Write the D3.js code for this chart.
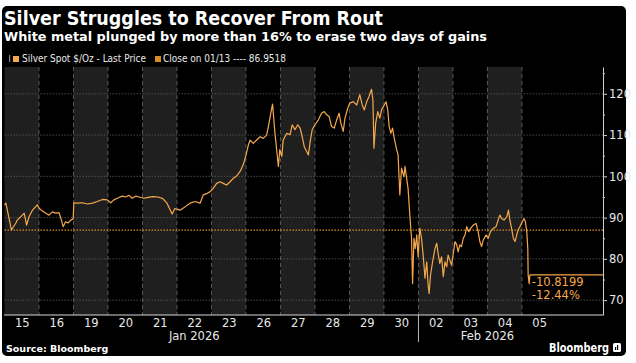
<!DOCTYPE html>
<html>
<head>
<meta charset="utf-8">
<script src="https://cdn.jsdelivr.net/npm/d3@7"></script>
<style>
  html, body { margin: 0; padding: 0; background: #fff; }
  svg { display: block; }
  text { font-family: "DejaVu Sans", sans-serif; }
</style>
</head>
<body>
<svg id="chart" width="636" height="363"></svg>
<script>
// trading days shown on the x axis
const days = ["15","16","19","20","21","22","23","26","27","28","29","30","02","03","04","05"];
const months = ["Jan 2026", "Feb 2026"];
const monthCenters = [5.5, 14];   // in trading-day units
const monthSplit = 12;            // first day of Feb
const yTicks = [70, 80, 90, 100, 110, 120];
const yMinor = [75, 85, 95, 105, 115, 125];
const closeValue = 86.9518;
const lastChange = "-10.8199";
const lastPct = "-12.44%";

// silver spot, position in trading days since open of Jan 15
const pos = [
  0.00,0.04,0.10,0.16,0.20,0.26,0.33,0.37,0.47,0.57,
  0.64,0.71,0.81,0.90,0.95,1.00,1.10,1.19,1.29,1.39,
  1.48,1.58,1.65,1.70,1.77,1.84,1.92,1.99,2.01,2.11,
  2.26,2.40,2.55,2.69,2.84,2.98,3.08,3.17,3.27,3.41,
  3.51,3.61,3.70,3.80,3.90,4.04,4.16,4.30,4.45,4.59,
  4.71,4.86,4.94,5.09,5.23,5.38,5.52,5.67,5.76,5.86,
  5.96,6.05,6.15,6.25,6.34,6.44,6.54,6.63,6.73,6.83,
  6.92,6.99,7.07,7.12,7.21,7.31,7.41,7.50,7.60,7.65,
  7.72,7.77,7.84,7.89,7.94,7.98,8.04,8.08,8.18,8.28,
  8.34,8.42,8.50,8.57,8.63,8.69,8.76,8.81,8.86,8.92,
  9.00,9.10,9.19,9.27,9.34,9.41,9.48,9.56,9.63,9.70,
  9.75,9.82,9.87,9.95,10.01,10.11,10.21,10.30,10.37,10.43,
  10.50,10.57,10.64,10.68,10.71,10.76,10.82,10.88,10.93,11.01,
  11.06,11.11,11.15,11.20,11.25,11.30,11.37,11.41,11.46,11.51,
  11.58,11.61,11.70,11.75,11.80,11.83,11.87,11.91,11.95,11.99,
  12.04,12.09,12.14,12.19,12.24,12.28,12.31,12.35,12.41,12.48,
  12.53,12.57,12.62,12.67,12.72,12.77,12.82,12.86,12.91,12.96,
  13.01,13.06,13.11,13.15,13.20,13.25,13.30,13.35,13.40,13.46,
  13.51,13.59,13.67,13.73,13.78,13.83,13.88,13.96,14.02,14.09,
  14.17,14.25,14.31,14.36,14.41,14.48,14.56,14.61,14.65,14.70,
  14.75,14.80,14.85,14.89,14.94,15.01,15.06,15.10,15.14,15.17,
  15.18,15.21,15.23
];
const price = [
  93.1,93.5,91.1,88.7,87.0,87.8,88.7,89.4,90.2,91.1,
  88.2,90.2,91.8,92.6,93.1,92.3,91.6,91.1,90.6,91.4,
  91.1,91.2,89.4,87.8,89.0,88.7,89.4,89.7,93.6,93.5,
  93.6,93.3,93.5,93.9,94.4,94.3,93.6,94.3,94.7,95.2,
  95.0,95.4,94.7,95.2,95.0,94.7,94.9,95.1,95.0,94.6,
  93.5,90.9,92.2,91.8,92.6,93.5,93.9,93.5,95.5,95.8,
  96.3,97.1,98.3,98.7,98.3,97.9,98.7,99.5,100.1,101.2,
  102.8,104.8,107.6,108.8,108.0,108.8,109.6,109.2,110.0,112.1,
  115.3,117.5,110.5,106.4,102.4,106.5,104.8,108.8,110.4,110.1,
  112.5,111.3,112.5,111.7,109.6,107.2,106.0,105.2,108.4,111.3,
  112.5,113.7,115.3,115.7,114.9,114.5,112.1,111.7,113.7,115.3,
  112.9,110.9,114.1,116.5,117.7,118.1,117.3,119.8,117.3,116.1,
  118.1,119.4,121.1,118.5,106.8,112.9,115.7,114.1,116.1,117.3,
  118.1,116.1,112.1,110.4,111.7,109.2,106.4,105.2,95.5,102.0,
  99.9,102.4,97.0,90.6,85.0,74.0,85.0,82.5,85.8,80.5,
  87.4,85.0,80.5,75.3,79.3,73.6,71.6,76.1,79.3,82.5,
  83.8,81.3,78.9,80.5,75.7,79.3,78.1,80.9,79.7,78.5,
  81.3,84.2,83.4,81.7,83.4,83.0,85.0,85.8,87.8,86.6,
  87.4,88.2,88.6,86.6,84.2,83.0,84.6,85.8,85.0,86.6,
  87.4,87.8,89.4,90.6,89.8,89.4,90.2,91.8,89.4,87.4,
  85.0,84.2,85.8,87.0,87.8,89.0,89.8,89.0,86.6,82.5,
  76.1,74.0,76.1319
];

const lineColor = "#f6a84c";
const closeColor = "#d98c24";
const textColor = "#e8e8e8";

const svg = d3.select("#chart");

// black panel
svg.append("rect")
  .attr("x", 2).attr("y", 6).attr("width", 624).attr("height", 350)
  .attr("rx", 5).attr("fill", "#000");

// titles
svg.append("text")
  .attr("x", 4).attr("y", 25)
  .attr("fill", "#fff").attr("font-weight", "bold").attr("font-size", 19)
  .attr("textLength", 379).attr("lengthAdjust", "spacingAndGlyphs")
  .text("Silver Struggles to Recover From Rout");
svg.append("text")
  .attr("x", 4).attr("y", 41)
  .attr("fill", "#fff").attr("font-weight", "bold").attr("font-size", 13)
  .attr("textLength", 483).attr("lengthAdjust", "spacingAndGlyphs")
  .text("White metal plunged by more than 16% to erase two days of gains");

// legend
const legend = svg.append("g");
legend.append("rect").attr("x", 9).attr("y", 55).attr("width", 1.2).attr("height", 7).attr("fill", "#8a8a8a");
legend.append("rect").attr("x", 13).attr("y", 56).attr("width", 6).attr("height", 6).attr("fill", lineColor);
legend.append("text").attr("x", 22).attr("y", 62)
  .attr("fill", textColor).attr("font-size", 10)
  .attr("textLength", 124).attr("lengthAdjust", "spacingAndGlyphs")
  .text("Silver Spot $/Oz - Last Price");
legend.append("rect").attr("x", 155).attr("y", 56).attr("width", 6).attr("height", 6).attr("fill", closeColor);
legend.append("text").attr("x", 163).attr("y", 62)
  .attr("fill", textColor).attr("font-size", 10)
  .attr("textLength", 123).attr("lengthAdjust", "spacingAndGlyphs")
  .text("Close on 01/13 ---- " + closeValue);

// scales
const plotLeft = 4.5, plotRight = 603, plotTop = 67, plotBottom = 315;
const x = d3.scaleLinear().domain([0, 17.35]).range([plotLeft, plotRight]);
const y = d3.scaleLinear().domain([66.4, 126.5]).range([plotBottom, plotTop]);

// alternating day bands
svg.append("g").selectAll("rect")
  .data(days)
  .join("rect")
  .attr("x", (d, i) => x(i))
  .attr("y", plotTop)
  .attr("width", x(1) - x(0))
  .attr("height", plotBottom - plotTop)
  .attr("fill", (d, i) => i % 2 === 0 ? "#1f1f1f" : "#000");

// horizontal grid
svg.append("g").selectAll("line")
  .data(yTicks)
  .join("line")
  .attr("x1", plotLeft).attr("x2", plotRight)
  .attr("y1", d => y(d)).attr("y2", d => y(d))
  .attr("stroke", "#5a5a5a").attr("stroke-width", 0.8)
  .attr("stroke-dasharray", "1.5,1.5");

// day separators
svg.append("g").selectAll("line")
  .data(days.slice(1))
  .join("line")
  .attr("x1", (d, i) => x(i + 1)).attr("x2", (d, i) => x(i + 1))
  .attr("y1", plotTop).attr("y2", plotBottom)
  .attr("stroke", "#6a6a6a").attr("stroke-width", 0.8)
  .attr("stroke-dasharray", "4,3");

// close reference line
svg.append("line")
  .attr("x1", plotLeft).attr("x2", plotRight)
  .attr("y1", y(closeValue)).attr("y2", y(closeValue))
  .attr("stroke", closeColor).attr("stroke-width", 1.2)
  .attr("stroke-dasharray", "1.5,1.5");

// price line
const series = pos.map((p, i) => [p, price[i]]);
svg.append("path")
  .datum(series)
  .attr("fill", "none")
  .attr("stroke", lineColor)
  .attr("stroke-width", 1.2)
  .attr("stroke-linejoin", "round")
  .attr("d", d3.line().x(d => x(d[0])).y(d => y(d[1])));

// last value carried to the right edge
const last = series[series.length - 1];
svg.append("line")
  .attr("x1", x(last[0])).attr("x2", plotRight)
  .attr("y1", y(last[1])).attr("y2", y(last[1]))
  .attr("stroke", lineColor).attr("stroke-width", 1.2);

svg.append("text")
  .attr("x", x(last[0]) + 2).attr("y", y(last[1]) + 11)
  .attr("fill", lineColor).attr("font-size", 11.5)
  .text(lastChange);
svg.append("text")
  .attr("x", x(last[0]) + 2).attr("y", y(last[1]) + 24)
  .attr("fill", lineColor).attr("font-size", 11.5)
  .text(lastPct);

// right axis
const yAxis = svg.append("g")
  .attr("transform", `translate(${plotRight},0)`)
  .call(d3.axisRight(y).tickValues(yTicks).tickSize(4).tickSizeOuter(0).tickPadding(2));
yAxis.select(".domain").attr("stroke", "#cfcfcf");
yAxis.selectAll(".tick line").attr("stroke", "#cfcfcf");
yAxis.selectAll(".tick text")
  .attr("fill", textColor).attr("font-size", 11.5)
  .attr("font-family", "DejaVu Sans, sans-serif");

const yMinorAxis = svg.append("g")
  .attr("transform", `translate(${plotRight},0)`)
  .call(d3.axisRight(y).tickValues(yMinor).tickSize(2).tickFormat(""));
yMinorAxis.select(".domain").remove();
yMinorAxis.selectAll(".tick line").attr("stroke", "#cfcfcf");

// bottom axis
const xAxis = svg.append("g")
  .attr("transform", `translate(0,${plotBottom})`)
  .call(d3.axisBottom(x)
    .tickValues(days.map((d, i) => i + 0.5))
    .tickFormat((d, i) => days[i])
    .tickSize(0).tickPadding(4));
xAxis.select(".domain").attr("stroke", "#d8d8d8").attr("stroke-width", 1.2)
  .attr("d", `M${plotLeft - 0.5},0H${plotRight}`);
xAxis.selectAll(".tick text")
  .attr("fill", textColor).attr("font-size", 11.5)
  .attr("font-family", "DejaVu Sans, sans-serif");

// month separator and labels
svg.append("line")
  .attr("x1", x(monthSplit)).attr("x2", x(monthSplit))
  .attr("y1", plotBottom).attr("y2", plotBottom + 27)
  .attr("stroke", "#bdbdbd").attr("stroke-width", 1);
svg.append("g").selectAll("text")
  .data(months)
  .join("text")
  .attr("x", (d, i) => x(monthCenters[i]))
  .attr("y", plotBottom + 25)
  .attr("text-anchor", "middle")
  .attr("fill", textColor).attr("font-size", 11.5)
  .text(d => d);

// footer
svg.append("text")
  .attr("x", 6).attr("y", 352)
  .attr("fill", "#fff").attr("font-weight", "bold").attr("font-size", 9.5)
  .text("Source: Bloomberg");
svg.append("text")
  .attr("x", 549).attr("y", 352)
  .attr("fill", "#fff").attr("font-weight", "bold").attr("font-size", 12.5)
  .attr("textLength", 60).attr("lengthAdjust", "spacingAndGlyphs")
  .text("Bloomberg");
const logo = svg.append("g").attr("transform", "translate(613,343)");
logo.append("rect").attr("width", 8).attr("height", 9).attr("rx", 1.5).attr("fill", "#fff");
logo.append("rect").attr("x", 2).attr("y", 4).attr("width", 1.2).attr("height", 3).attr("fill", "#000");
logo.append("rect").attr("x", 4).attr("y", 2).attr("width", 1.2).attr("height", 5).attr("fill", "#000");
</script>
</body>
</html>
